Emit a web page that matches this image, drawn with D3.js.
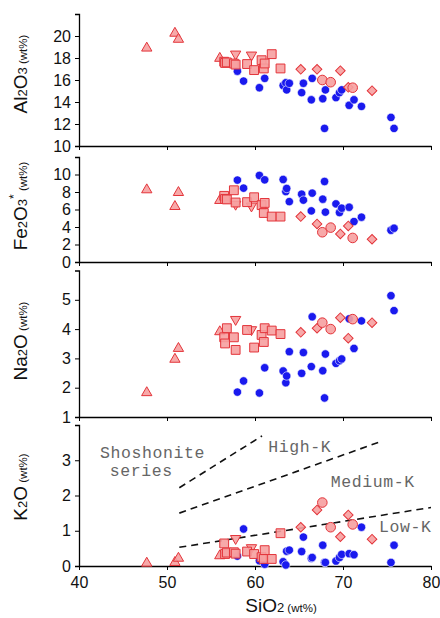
<!DOCTYPE html>
<html>
<head>
<meta charset="utf-8">
<script src="https://cdn.jsdelivr.net/npm/d3@7"></script>
<style>
  body { margin: 0; background: #fff; }
  svg { display: block; font-family: "Liberation Sans", Arial, sans-serif; }
</style>
</head>
<body>
<svg id="Vis" width="440" height="618"></svg>
<script>
// rows: [SiO2, Al2O3, Fe2O3*, Na2O, K2O]
var blueCircles = [
  [58.0, 16.8, 9.36, 1.85, 0.28],
  [58.7, 15.9, 8.44, 2.23, 1.05],
  [60.5, 15.3, 9.89, 1.82, 0.15],
  [61.1, 16.15, 9.39, 2.68, 0.05],
  [63.2, 15.5, 9.43, 2.57, 0.12],
  [63.5, 15.75, 8.05, 2.17, 0.03],
  [63.6, 15.1, 8.4, 2.4, 0.42],
  [63.9, 15.7, 6.9, 3.23, 0.45],
  [65.3, 14.85, 7.75, 2.49, 0.41],
  [65.5, 15.7, 7.07, 3.2, 0.82],
  [66.4, 14.2, 5.84, 2.72, 0.22],
  [66.5, 16.15, 7.87, 4.42, 0.24],
  [67.7, 14.3, 7.18, 2.58, 0.59],
  [67.9, 11.6, 9.2, 1.65, 0.1],
  [68.0, 15.1, 5.7, 3.15, 0.1],
  [69.2, 14.4, 6.64, 2.83, 0.14],
  [69.6, 14.85, 5.65, 2.92, 0.24],
  [69.85, 15.1, 6.15, 2.98, 0.33],
  [70.7, 13.7, 6.26, 4.35, 0.35],
  [71.25, 14.2, 4.62, 3.34, 0.32],
  [72.1, 13.6, 5.12, 4.28, 1.1],
  [75.45, 12.6, 3.63, 5.14, 0.1],
  [75.8, 11.6, 3.86, 4.63, 0.59]
];
var redTriangles = [
  [47.7, 18.9, 8.25, 1.83, 0.08],
  [50.9, 20.25, 6.34, 2.97, 0.1],
  [51.3, 19.7, 7.94, 3.34, 0.22],
  [56.0, 17.97, 7.03, 3.91, 0.29]
];
var redDownTriangles = [
  [57.8, 18.36, 6.6, 4.33, 0.78],
  [59.6, 18.27, 6.4, 3.98, 0.52]
];
var redSquares = [
  [56.5, 17.66, 7.56, 3.72, 0.64],
  [56.6, 17.55, 7.2, 3.51, 0.34],
  [56.8, 17.6, 7.15, 4.03, 0.38],
  [57.6, 17.5, 8.2, 3.72, 0.39],
  [57.8, 17.4, 6.8, 3.29, 0.35],
  [59.1, 17.45, 6.84, 3.97, 0.41],
  [59.9, 16.9, 7.4, 3.37, 0.34],
  [60.75, 17.8, 6.5, 3.8, 0.25],
  [61.0, 17.05, 5.6, 3.56, 0.2],
  [61.1, 17.5, 6.75, 4.03, 0.45],
  [61.9, 18.35, 5.19, 3.95, 0.2],
  [62.9, 17.05, 5.19, 3.83, 0.93]
];
var redDiamonds = [
  [65.2, 16.97, 5.19, 3.89, 1.1],
  [67.05, 16.97, 4.35, 4.03, 1.59],
  [69.7, 16.85, 3.21, 4.39, 0.83],
  [70.6, 15.33, 4.12, 3.69, 1.45],
  [73.3, 15.03, 2.6, 4.22, 0.76]
];
var redCircles = [
  [67.65, 16.0, 3.4, 4.22, 1.8],
  [68.6, 15.8, 3.93, 4.0, 1.1],
  [71.1, 15.3, 2.75, 4.34, 1.18]
];

var xTicks = [40, 50, 60, 70, 80];
var alTicks = [10, 12, 14, 16, 18, 20];
var feTicks = [0, 2, 4, 6, 8, 10];
var naTicks = [1, 2, 3, 4, 5];
var kTicks = [0, 1, 2, 3];

// K2O series boundaries [SiO2, K2O]
var kBoundaries = [
  [[51.4, 2.22], [60.8, 3.69]],
  [[51.4, 1.50], [74.3, 3.53]],
  [[51.4, 0.53], [80.0, 1.66]]
];
var kFields = [
  ["Shoshonite", 42.4, 3.07],
  ["series", 43.5, 2.54],
  ["High-K", 61.5, 3.22],
  ["Medium-K", 68.6, 2.25],
  ["Low-K", 74.1, 0.97]
];

var svg = d3.select("#Vis");
var x = d3.scaleLinear().domain([40, 80]).range([79, 431]);

var panels = [
  {col: 1, domain: [10, 22], ticks: alTicks, top: 14, bottom: 146, cy: 74,
   label: [["Al", 0], ["2", 1], ["O", 0], ["3", 1], [" (wt%)", 2]]},
  {col: 2, domain: [0, 12], ticks: feTicks, top: 157, bottom: 262, cy: 206,
   label: [["Fe", 0], ["2", 1], ["O", 0], ["3", 1], ["*", 3], [" (wt%)", 2]]},
  {col: 3, domain: [1, 6], ticks: naTicks, top: 270.5, bottom: 417, cy: 341,
   label: [["Na", 0], ["2", 1], ["O", 0], [" (wt%)", 2]]},
  {col: 4, domain: [0, 4], ticks: kTicks, top: 425, bottom: 566, cy: 487,
   label: [["K", 0], ["2", 1], ["O", 0], [" (wt%)", 2]]}
];

var groups = [
  {rows: blueCircles, kind: "blue"},
  {rows: redTriangles, kind: "tri"},
  {rows: redDownTriangles, kind: "down"},
  {rows: redSquares, kind: "square"},
  {rows: redDiamonds, kind: "diamond"},
  {rows: redCircles, kind: "circle"}
];

var triPath = d3.symbol().type(d3.symbolTriangle).size(46)();
var sqPath = d3.symbol().type(d3.symbolSquare).size(78)();
var diaPath = d3.symbol().type(d3.symbolSquare).size(46)();

panels.forEach(function(p, pi) {
  var y = d3.scaleLinear().domain(p.domain).range([p.bottom, p.top]);
  var last = pi == panels.length - 1;

  var gx = svg.append("g").attr("transform", "translate(0," + p.bottom + ")")
    .call(d3.axisBottom(x).tickValues(xTicks).tickSize(4).tickSizeOuter(0)
      .tickFormat(last ? d3.format("d") : ""));
  gx.selectAll("text").style("font-size", "16px").attr("dy", "0.95em").attr("fill", "#111");

  var gy = svg.append("g").attr("transform", "translate(79,0)")
    .call(d3.axisLeft(y).tickValues(p.ticks).tickSize(4).tickSizeOuter(4).tickFormat(d3.format("d")));
  gy.selectAll("text").style("font-size", "16px").attr("x", -8).attr("fill", "#111");
  svg.selectAll("path.domain").attr("stroke-width", 1.3);

  // y label
  var t = svg.append("text")
    .attr("transform", "translate(27," + p.cy + ") rotate(-90)")
    .attr("text-anchor", "middle")
    .attr("fill", "#111");
  p.label.forEach(function(part) {
    var ts = t.append("tspan").text(part[0]);
    if (part[1] == 0) ts.style("font-size", "19px");
    if (part[1] == 1) ts.style("font-size", "13px");
    if (part[1] == 2) ts.style("font-size", "11.5px");
    if (part[1] == 3) ts.style("font-size", "12px").attr("dy", -9);
    if (part[1] == 2 && p.label.some(function(q){ return q[1] == 3; })) ts.attr("dy", 9);
  });

  if (p.col == 4) {
    var line = d3.line().x(function(d){ return x(d[0]); }).y(function(d){ return y(d[1]); });
    svg.append("g").selectAll("path").data(kBoundaries).enter().append("path")
      .attr("d", line)
      .attr("fill", "none")
      .attr("stroke", "#111")
      .attr("stroke-width", 1.6)
      .attr("stroke-dasharray", "7,5");
    svg.append("g").selectAll("text").data(kFields).enter().append("text")
      .attr("x", function(d){ return x(d[1]); })
      .attr("y", function(d){ return y(d[2]); })
      .text(function(d){ return d[0]; })
      .style("font-family", "'Liberation Mono', 'DejaVu Sans Mono', monospace")
      .style("font-size", "16.5px")
      .style("letter-spacing", "0.6px")
      .attr("fill", "#666");
  }

  var gPts = svg.append("g");
  groups.forEach(function(g) {
    var sel = gPts.append("g").selectAll(".pt").data(g.rows).enter();
    var cx = function(d){ return x(d[0]); };
    var cy = function(d){ return y(d[p.col]); };
    if (g.kind == "blue") {
      sel.append("circle").attr("cx", cx).attr("cy", cy).attr("r", 4.2)
        .attr("fill", "#1a1aee").attr("stroke", "#fff").attr("stroke-width", 0.6);
      return;
    }
    var m;
    if (g.kind == "circle") {
      m = sel.append("circle").attr("cx", cx).attr("cy", cy).attr("r", 4.8);
    } else {
      m = sel.append("path")
        .attr("d", g.kind == "square" ? sqPath : (g.kind == "diamond" ? diaPath : triPath))
        .attr("transform", function(d){
          var rot = g.kind == "down" ? 180 : (g.kind == "diamond" ? 45 : 0);
          return "translate(" + cx(d) + "," + cy(d) + ") rotate(" + rot + ")";
        });
    }
    m.attr("fill", "#f6a0a0").attr("fill-opacity", 0.9)
      .attr("stroke", "#e3343a").attr("stroke-width", 1);
  });
});

// x label
var xl = svg.append("text").attr("x", 281).attr("y", 612).attr("text-anchor", "middle").attr("fill", "#111");
xl.append("tspan").text("SiO").style("font-size", "19px");
xl.append("tspan").text("2").style("font-size", "13px");
xl.append("tspan").text(" (wt%)").style("font-size", "11.5px");
</script>
</body>
</html>
